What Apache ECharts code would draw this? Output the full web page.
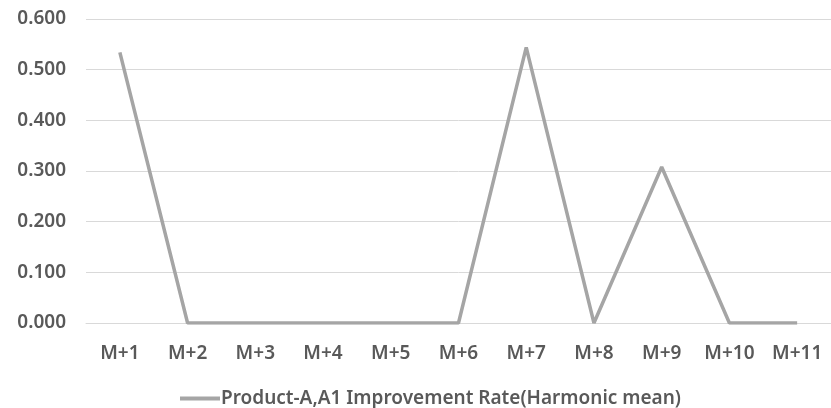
<!DOCTYPE html>
<html><head><meta charset="utf-8">
<script src="https://cdn.jsdelivr.net/npm/echarts@6/dist/echarts.min.js"></script>
<style>html,body{margin:0;padding:0;background:#fff}#c{width:831px;height:408px}</style>
</head><body><div id="c"></div>
<script>
var categories = ['M+1','M+2','M+3','M+4','M+5','M+6','M+7','M+8','M+9','M+10','M+11'];
var seriesName = 'Product-A,A1 Improvement Rate(Harmonic mean)';
var values = [0.534, 0, 0, 0, 0, 0, 0.544, 0, 0.308, 0, 0];
var chart = echarts.init(document.getElementById('c'));
var font = 'Noto Sans';
var fw = 600;
chart.setOption({
  animation: false,
  grid: {left: 86, top: 19, width: 751, height: 304, containLabel: false},
  legend: {
    data: [{name: seriesName, icon: 'rect'}],
    top: 384, left: 175,
    itemWidth: 40, itemHeight: 4, itemGap: 2,
    textStyle: {color: '#595959', fontFamily: font, fontSize: 19, fontWeight: fw, padding: [0, 0, 0, -4]}
  },
  xAxis: {
    type: 'category', data: categories, boundaryGap: true,
    axisLine: {show: true, lineStyle: {color: '#d9d9d9', width: 1}},
    axisTick: {show: false},
    axisLabel: {color: '#595959', fontFamily: font, fontSize: 19, fontWeight: fw, margin: 21}
  },
  yAxis: {
    type: 'value', min: 0, max: 0.6, interval: 0.1,
    axisLine: {show: false}, axisTick: {show: false},
    splitLine: {lineStyle: {color: '#d9d9d9', width: 1}},
    axisLabel: {color: '#595959', fontFamily: font, fontSize: 19, fontWeight: fw, margin: 20,
      formatter: function (v) { return v.toFixed(3); }}
  },
  series: [{
    name: seriesName, type: 'line', data: values,
    symbol: 'none', lineStyle: {color: '#a5a5a5', width: 3.5}, itemStyle: {color: '#a5a5a5'}
  }]
});
</script></body></html>
